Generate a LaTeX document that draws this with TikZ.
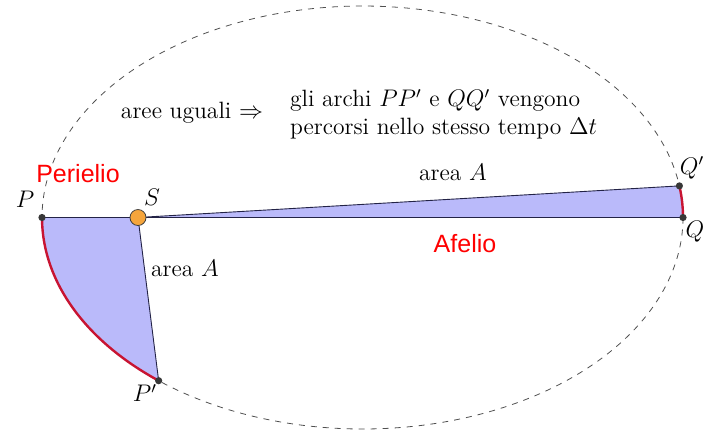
\documentclass[tikz,border=0pt]{standalone}
\usepackage{fontspec}
\newfontfamily\arialfont{Liberation Sans}
\begin{document}
\begin{tikzpicture}[x=0.5pt,y=-0.5pt,
  areafill/.style={fill=lav},
  edge/.style={draw=edgecol,line width=0.45pt},
  orbit/.style={draw=orbitcol,dashed,line width=0.4pt},
  arcred/.style={draw=arccol,line width=1.2pt},
  pt/.style={circle,fill=dotcol,inner sep=0pt,minimum size=3.6pt},
  sun/.style={circle,fill=suncol,draw=black!75,line width=0.4pt,inner sep=0pt,minimum size=8pt},
  lbl/.style={font=\fontsize{11.8}{13.6}\selectfont},
  redlbl/.style={font=\arialfont\fontsize{12.5}{15}\selectfont,text=red}]
\definecolor{lav}{RGB}{186,186,250}
\definecolor{edgecol}{RGB}{35,35,70}
\definecolor{orbitcol}{RGB}{80,80,80}
\definecolor{arccol}{RGB}{200,20,50}
\definecolor{dotcol}{RGB}{55,55,55}
\definecolor{suncol}{RGB}{245,165,60}
\useasboundingbox (0,0) rectangle (715,430);
\def\cx{362.5}\def\cy{217.5}\def\ea{320.5}\def\eb{211.5}
\coordinate (P) at (42,217.5);
\coordinate (S) at (138,217.5);
\coordinate (Pp) at ({\cx+\ea*cos(129.5)},{\cy+\eb*sin(129.5)});
\coordinate (Q) at (683,217.5);
\coordinate (Qp) at ({\cx+\ea*cos(-8.6)},{\cy+\eb*sin(-8.6)});
% orbit
\draw[orbit] plot[domain=0:360,samples=240,smooth] ({\cx+\ea*cos(\x)},{\cy+\eb*sin(\x)});
% sectors
\fill[areafill] (S) -- (P) -- plot[domain=180:129.5,samples=40,smooth] ({\cx+\ea*cos(\x)},{\cy+\eb*sin(\x)}) -- cycle;
\fill[areafill] (S) -- (Qp) -- plot[domain=-8.6:0,samples=10,smooth] ({\cx+\ea*cos(\x)},{\cy+\eb*sin(\x)}) -- cycle;
\draw[edge] (P) -- (S) -- (Pp);
\draw[edge] (Qp) -- (S) -- (Q);
\draw[arcred] plot[domain=180:129.5,samples=40,smooth] ({\cx+\ea*cos(\x)},{\cy+\eb*sin(\x)});
\draw[arcred] plot[domain=-8.6:0,samples=10,smooth] ({\cx+\ea*cos(\x)},{\cy+\eb*sin(\x)});
% points
\node[pt] (nP) at (P) {};
\node[pt] (nPp) at (Pp) {};
\node[pt] (nQ) at (Q) {};
\node[pt] (nQp) at (Qp) {};
\node[sun] (nS) at (S) {};
% labels
\node[lbl] (lP) at (25,199) {$P$};
\node[lbl] (lS) at (152,197) {$S$};
\node[lbl] (lPp) at (145,393) {$P'$};
\node[lbl] (lQp) at (692,168) {$Q'$};
\node[lbl] (lQ) at (695,232) {$Q$};
\node[lbl] (a1) at (453,172) {area $A$};
\node[lbl] (a2) at (185,268) {area $A$};
\node[lbl] (t1) at (192,113) {aree uguali $\Rightarrow$};
\node[lbl,anchor=west,align=left] (t2) at (283,114) {gli archi $PP'$ e $QQ'$ vengono\\percorsi nello stesso tempo $\Delta t$};
\node[redlbl] (per) at (78,174) {Perielio};
\node[redlbl] (af) at (465,244) {Afelio};
\end{tikzpicture}
\end{document}
